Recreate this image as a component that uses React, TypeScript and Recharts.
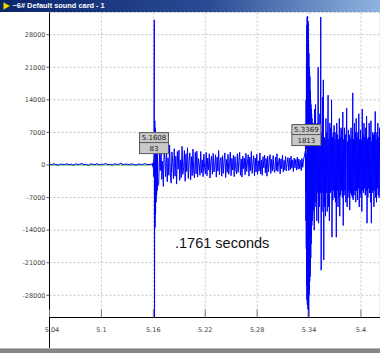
import React from 'react';
import { LineChart, Line, XAxis, YAxis, CartesianGrid, ReferenceLine, ReferenceDot } from 'recharts';

// ---- axis ticks ----
const xTicks = [5.04, 5.1, 5.16, 5.22, 5.28, 5.34, 5.4];
const yTicks = [-28000, -21000, -14000, -7000, 0, 7000, 14000, 21000, 28000];
const xDomain = [5.04, 5.422];
const yDomain = [-32768, 32767];

// ---- markers (time, value) ----
const markerTimes = [5.1608, 5.3369];
const markerValues = [83, 1813];

// ---- waveform samples, by segment ----
const quietStart = 5.04;
const quietStep = 0.0025;
const quietValues = [150, 80, 260, 120, -60, 210, 140, 90, 300, 60, 180, -40, 250, 110, 170, 320, 70, 140, -80, 230, 160, 100, 280, 40, 190, 130, 350, 90, 150, -20, 240, 180, 120, 420, 60, 200, 140, 80, 260, 110, -50, 220, 170, 100, 290, 130, 60, 200];

const impulseStart = 5.159;
const impulseStep = 0.0003;
const impulseValues = [150, -200, 400, -600, 1200, -2500, 83, 31200, -32768, 9500, -13400, 8000, -10500, 6500, -8000, 5500, -6500, 4800, -5500, 4000, -4600];

const decayStart = 5.1662;
const decayStep = 0.0009;
const decayValues = [
  -4200, 2600, -1200, 3900, -3100, 800, -4600, 3300, 1200, -2500, 3800, -3600, 1500, -2200, 4300, -1800, -3900, 2800, 600, -3000, 3500, -2400, 1900, -4100, 2900, -900, 3200, -3300, 1100, -2700, 4000, -2000, -600, 3100, -3500, 2400, -1400, 3700, -2900, 900, 2600, -3200, 1800, -2300, 3400, -1500, -2800, 2700, -1900, 3000,
  -2600, 1400, 300, -2200, 2900, -1700, 1100, -2500, 2300, -600, -1900, 2700, -2300, 1500, -1100, 2400, -2800, 800, 1900, -2000, 2500, -1500, -400, 2200, -2600, 1700, -1300, 3100, -2100, 700, 1600, -2400, 2000, -1800, 900, 2600, -2700, 1200, -1600, 2300, -2000, 500, 2800, -2300, 1400, -1100, 2100, -2500, 1800, -700, -1900, 2400, -1600, 1000, 2700, -2200, 1300, -2600, 1900, -800, 1500, -2100, 2500, -1400, 600, 2200, -2400, 1700, -1200, 2900, -1800, 400, 2000, -2300, 1500, -1500, 2300, -2000, 900, -1300, 2600, -1900, 1100, -2200, 1800, -600, 2100, -1700, 1400, -2400,
  1900, -1500, 800, 2200, -1800, 1200, -1300, 2000, -900, -1600, 1700, -1200, 2400, -1400, 700, 1500, -1900, 1300, -800, 2100, -1500, 1000, -1100, 1800, -1300, 500, 1600, -1200, 1400, -1000, 1900, -700, 1100, -1400, 1500, -600, 1200, -1100, 1700, -900, 1300, -800, 1000, -1200, 1400, -500, 1100, 1813,
];

const burstStart = 5.3358;
const burstStep = 0.0002;
const burstValues = [3000, -6000, 9000, -12000, 14000, -18000, 22000, -26000, 30000, -29000, 31800, -30000, 32000, -29500, 31000, -31000, 30500, -32768, 26000, -32768, 24000, -28000, 21000, -27000, 20000, -25000, 19000, -24000, 16000, -22000, 14000, -20000, 13000, -17000, 12000, -15000, 11000, -13000, 10000, -12000, 9000, -11000, 8000, -10000, 9000, -9000, 7000, -9500, 8000, -8000];

const tailStart = 5.346;
const tailStep = 0.0005;
const tailValues = [
  -14000, 12000, -8000, 13000, -9000, 6000, -12000, 9000, -6000, 21000, -12500,
  7000, -9000, 11000, -6000, 31800, -22600, 7000, -10000, 14600, -6000,
  18300, -20400, 6000, -9000, 5500, -11000, 10000, -6000, 7000, -10000,
  6000, 15000, -9000, 5500, -12000, 9000, -6000, 8000, -5500, 14000,
  -15500, 6000, -7500, 7000, -5500, 8500, -7000, 5500, -8000, 7000,
  -15500, 9000, -5500, 6500, -9000, 5500, -7000, 10000, -11000, 6000,
  -6500, 8000, -5500, 7500, -7000, 11400, -13000, 5500, -6500, 8000,
  -5500, 6500, -8000, 5500, 12200, -9000, 5000, -7000, 7500, -5500,
  6500, -9700, 5500, -6000, 8000, -6500, 6000, -7000, 15500, -7500,
  5500, -6500, 9000, -5500, 7000, -8000, 10000, -5500, 6000, -7500,
  7000, -5000, 11000, -9000, 5500, -6000, 7500, -7000, 5500, -10000,
  12000, -5500, 6500, -6000, 9000, -5000, 6000, -6500, 8000, -5500,
  10500, -12500, 5500, -7000, 6000, -5000, 9000, -6000, 6000, -8000,
  9500, -12500, 5000, -6000, 7000, -5500, 6500, -9000, 7000, -5500,
  11500, -7000, 5500, -8000, 7000, -5000, 9000, -6500, 6000, -7000, 8000, -5500,
];

const segments = [
  { start: quietStart, step: quietStep, values: quietValues },
  { start: impulseStart, step: impulseStep, values: impulseValues },
  { start: decayStart, step: decayStep, values: decayValues },
  { start: burstStart, step: burstStep, values: burstValues },
  { start: tailStart, step: tailStep, values: tailValues },
];

const waveData = segments.flatMap((s) =>
  s.values.map((v, i) => ({ t: +(s.start + i * s.step).toFixed(5), v }))
);

const FONT = 'DejaVu Sans';

const XTick = (props: any) => {
  const { x, y, payload } = props;
  const first = payload.value === xTicks[0];
  return (
    <g>
      <line x1={x} x2={x} y1={y - 8} y2={y} stroke="#777" strokeWidth={1} />
      <text x={x + (first ? 2.5 : 0)} y={y + 14} textAnchor="middle" fontSize={6.5} fill="#444" fontFamily={FONT}>
        {String(payload.value)}
      </text>
    </g>
  );
};

const makeMarker = (idx: number) => (props: any) => {
  const { cx, cy } = props;
  const w = 29;
  const left = cx - w / 2;
  return (
    <g>
      <rect x={left} y={cy - 32} width={w} height={10} fill="#c8c8c8" stroke="#5a5a5a" strokeWidth={1} />
      <rect x={left} y={cy - 22} width={w} height={11} fill="#c8c8c8" stroke="#5a5a5a" strokeWidth={1} />
      <text x={cx} y={cy - 24.3} textAnchor="middle" fontSize={7} fill="#222" fontFamily={FONT}>
        {markerTimes[idx].toFixed(4)}
      </text>
      <text x={cx} y={cy - 13.8} textAnchor="middle" fontSize={7} fill="#222" fontFamily={FONT}>
        {String(markerValues[idx])}
      </text>
      <line x1={cx} x2={cx} y1={cy - 8} y2={cy - 3} stroke="#555" strokeWidth={1} />
    </g>
  );
};

export default function App() {
  return (
    <div style={{ position: 'absolute', left: 0, top: 0, width: 380, height: 353, background: '#fff', overflow: 'hidden' }}>
      <LineChart
        width={380}
        height={353}
        data={waveData}
        margin={{ top: 12.5, right: 0, bottom: 5.5, left: 0 }}
      >
        <CartesianGrid stroke="#c4c4c4" strokeDasharray="2 2" />
        <XAxis
          dataKey="t"
          type="number"
          domain={xDomain}
          ticks={xTicks}
          allowDataOverflow
          height={30}
          tickSize={0}
          tickMargin={0}
          tickLine={false}
          tick={<XTick />}
          axisLine={{ stroke: '#000' }}
          interval={0}
        />
        <YAxis
          type="number"
          domain={yDomain}
          ticks={yTicks}
          allowDataOverflow
          width={49.5}
          tickSize={3}
          tickMargin={1}
          interval={0}
          tickLine={{ stroke: '#555' }}
          axisLine={{ stroke: '#000' }}
          tick={{ fontSize: 6.5, fill: '#444', fontFamily: FONT }}
        />
        <ReferenceLine
          segment={[{ x: 5.04, y: 0 }, { x: 5.161, y: 0 }]}
          stroke="#2fbf2f"
          strokeWidth={1}
        />
        <Line
          dataKey="v"
          type="linear"
          stroke="#0000ff"
          strokeWidth={1}
          dot={false}
          isAnimationActive={false}
        />
        <ReferenceDot x={markerTimes[0]} y={markerValues[0]} shape={makeMarker(0)} />
        <ReferenceDot x={markerTimes[1]} y={markerValues[1]} shape={makeMarker(1)} />
      </LineChart>

      {/* window title bar */}
      <div
        style={{
          position: 'absolute', left: 0, top: 0, width: 380, height: 12,
          background: 'linear-gradient(to right, #0a246a 0%, #2a4c94 55%, #8fb4e0 100%)',
        }}
      >
        <svg width={10} height={12} style={{ position: 'absolute', left: 2, top: 0 }}>
          <polygon points="1.5,2.5 8,6 1.5,9.5" fill="#f5e10a" stroke="#8a7a00" strokeWidth={0.6} />
        </svg>
        <div
          style={{
            position: 'absolute', left: 12.5, top: 0, height: 12, lineHeight: '12px',
            fontFamily: 'Liberation Sans', fontWeight: 'bold', fontSize: 7.4, color: '#fff', whiteSpace: 'nowrap',
          }}
        >
          ~6# Default sound card - 1
        </div>
      </div>

      {/* y axis extension below the x axis */}
      <div style={{ position: 'absolute', left: 49, top: 317, width: 1, height: 31, background: '#000' }} />

      {/* bottom window edge */}
      <div style={{ position: 'absolute', left: 0, top: 348, width: 380, height: 5, background: '#858585', borderTop: '1px solid #b8b8b8', boxSizing: 'border-box' }} />

      {/* free text */}
      <div
        style={{
          position: 'absolute', left: 175, top: 236, fontFamily: 'Liberation Sans', fontSize: 14.5,
          lineHeight: '14.5px', color: '#111', whiteSpace: 'nowrap',
        }}
      >
        .1761 seconds
      </div>
    </div>
  );
}
